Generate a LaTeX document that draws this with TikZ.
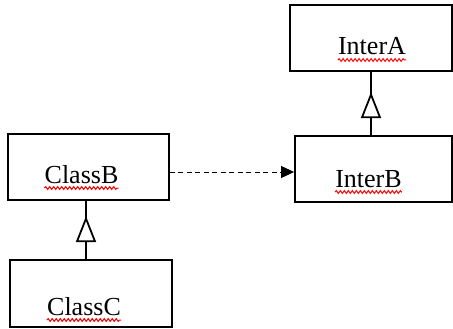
\documentclass[tikz,border=0pt]{standalone}
\usepackage{fontspec}
\setmainfont{Liberation Serif}
\usetikzlibrary{arrows.meta,positioning,calc,decorations.pathmorphing,decorations.markings}

\begin{document}
\begin{tikzpicture}[x=1pt, y=-1pt,
    box/.style={draw, line width=1.8pt, minimum width=162pt, minimum height=66pt, inner sep=0pt},
    boxtext/.style={anchor=base, inner sep=0pt, font=\fontsize{26}{30}\selectfont},
    spell/.style={red, line width=1pt, decorate, decoration={snake, amplitude=1.4pt, segment length=4pt}},
    inherit/.style={line width=1.2pt, postaction={decorate},
        decoration={markings, mark=at position 43pt with {\arrow{Triangle[fill=white, length=26pt, width=20pt, line width=1.8pt]}}}},
    depend/.style={line width=1pt, dash pattern=on 5pt off 3.5pt, -{Triangle[length=13pt, width=12pt]}}]
    \useasboundingbox (0,0) rectangle (453,329);

    % Interfaces
    \node[box] (interA) at (371,38) {};
    \node[box, minimum width=157pt] (interB) at (373.5,169) {};
    \node[boxtext] (tInterA) at ($(interA.center)+(1,17)$) {InterA};
    \node[boxtext] (tInterB) at ($(interB.center)+(-5,18)$) {InterB};

    % Classes
    \node[box, minimum width=161pt] (classB) at (88.5,167) {};
    \node[box, minimum height=67pt] (classC) at (91,293.5) {};
    \node[boxtext] (tClassB) at ($(classB.center)+(-7,16)$) {ClassB};
    \node[boxtext] (tClassC) at ($(classC.center)+(-7,21.5)$) {ClassC};

    % Spelling marks
    \foreach \t in {tInterA,tInterB,tClassB,tClassC}
        \draw[spell] ($(\t.base west)+(0,5)$) -- ($(\t.base east)+(0,5)$);

    % Generalisation
    \draw[inherit] (interA.south |- interB.north) -- (interA.south);
    \draw[inherit] ($(classB.south |- classC.north)+(-2.5,0)$) -- ($(classB.south)+(-2.5,0)$);

    % Dependency
    \draw[depend] ($(classB.east)+(0,5)$) -- ($(classB.east -| interB.west)+(0,5)$);
\end{tikzpicture}
\end{document}
